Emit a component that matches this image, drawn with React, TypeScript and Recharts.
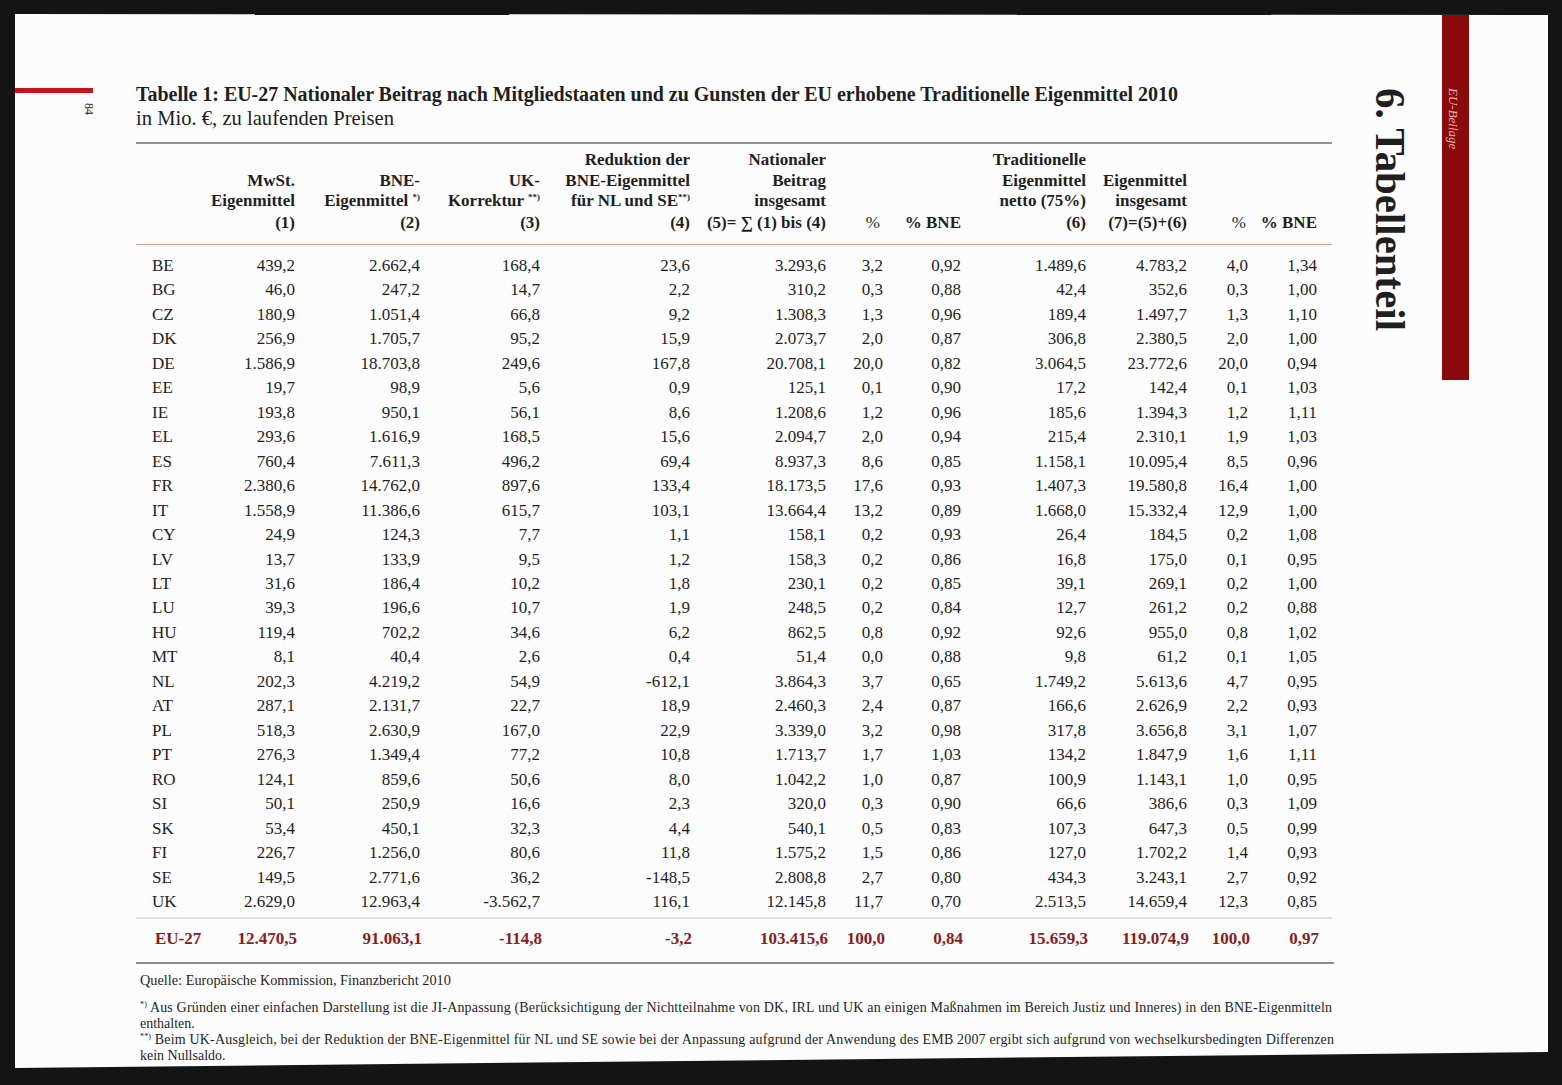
import React from 'react';
import { ScatterChart, Scatter, XAxis, YAxis, Customized } from 'recharts';

// ---------- DATA ----------
const countries = ['BE','BG','CZ','DK','DE','EE','IE','EL','ES','FR','IT','CY','LV','LT','LU','HU','MT','NL','AT','PL','PT','RO','SI','SK','FI','SE','UK'];

const mwstEigenmittel = [439.2,46.0,180.9,256.9,1586.9,19.7,193.8,293.6,760.4,2380.6,1558.9,24.9,13.7,31.6,39.3,119.4,8.1,202.3,287.1,518.3,276.3,124.1,50.1,53.4,226.7,149.5,2629.0];
const bneEigenmittel = [2662.4,247.2,1051.4,1705.7,18703.8,98.9,950.1,1616.9,7611.3,14762.0,11386.6,124.3,133.9,186.4,196.6,702.2,40.4,4219.2,2131.7,2630.9,1349.4,859.6,250.9,450.1,1256.0,2771.6,12963.4];
const ukKorrektur = [168.4,14.7,66.8,95.2,249.6,5.6,56.1,168.5,496.2,897.6,615.7,7.7,9.5,10.2,10.7,34.6,2.6,54.9,22.7,167.0,77.2,50.6,16.6,32.3,80.6,36.2,-3562.7];
const reduktionNLSE = [23.6,2.2,9.2,15.9,167.8,0.9,8.6,15.6,69.4,133.4,103.1,1.1,1.2,1.8,1.9,6.2,0.4,-612.1,18.9,22.9,10.8,8.0,2.3,4.4,11.8,-148.5,116.1];
const nationalerBeitrag = [3293.6,310.2,1308.3,2073.7,20708.1,125.1,1208.6,2094.7,8937.3,18173.5,13664.4,158.1,158.3,230.1,248.5,862.5,51.4,3864.3,2460.3,3339.0,1713.7,1042.2,320.0,540.1,1575.2,2808.8,12145.8];
const anteilBeitrag = [3.2,0.3,1.3,2.0,20.0,0.1,1.2,2.0,8.6,17.6,13.2,0.2,0.2,0.2,0.2,0.8,0.0,3.7,2.4,3.2,1.7,1.0,0.3,0.5,1.5,2.7,11.7];
const bneAnteilBeitrag = [0.92,0.88,0.96,0.87,0.82,0.90,0.96,0.94,0.85,0.93,0.89,0.93,0.86,0.85,0.84,0.92,0.88,0.65,0.87,0.98,1.03,0.87,0.90,0.83,0.86,0.80,0.70];
const traditionelleEM = [1489.6,42.4,189.4,306.8,3064.5,17.2,185.6,215.4,1158.1,1407.3,1668.0,26.4,16.8,39.1,12.7,92.6,9.8,1749.2,166.6,317.8,134.2,100.9,66.6,107.3,127.0,434.3,2513.5];
const eigenmittelGesamt = [4783.2,352.6,1497.7,2380.5,23772.6,142.4,1394.3,2310.1,10095.4,19580.8,15332.4,184.5,175.0,269.1,261.2,955.0,61.2,5613.6,2626.9,3656.8,1847.9,1143.1,386.6,647.3,1702.2,3243.1,14659.4];
const anteilGesamt = [4.0,0.3,1.3,2.0,20.0,0.1,1.2,1.9,8.5,16.4,12.9,0.2,0.1,0.2,0.2,0.8,0.1,4.7,2.2,3.1,1.6,1.0,0.3,0.5,1.4,2.7,12.3];
const bneAnteilGesamt = [1.34,1.00,1.10,1.00,0.94,1.03,1.11,1.03,0.96,1.00,1.00,1.08,0.95,1.00,0.88,1.02,1.05,0.95,0.93,1.07,1.11,0.95,1.09,0.99,0.93,0.92,0.85];

const totalLabel = 'EU-27';
const eu27Totals = [12470.5,91063.1,-114.8,-3.2,103415.6,100.0,0.84,15659.3,119074.9,100.0,0.97];

const columnValues = [mwstEigenmittel,bneEigenmittel,ukKorrektur,reduktionNLSE,nationalerBeitrag,anteilBeitrag,bneAnteilBeitrag,traditionelleEM,eigenmittelGesamt,anteilGesamt,bneAnteilGesamt];
const columnDecimals = [1,1,1,1,1,1,2,1,1,1,2];

// header texts (4 lines each, '|' separates a superscript note)
const headerTexts: (string | null)[][] = [
  [null,'MwSt.','Eigenmittel','(1)'],
  [null,'BNE-','Eigenmittel |*)','(2)'],
  [null,'UK-','Korrektur |**)','(3)'],
  ['Reduktion der','BNE-Eigenmittel','für NL und SE|**)','(4)'],
  ['Nationaler','Beitrag','insgesamt','(5)= ∑ (1) bis (4)'],
  [null,null,null,'%'],
  [null,null,null,'% BNE'],
  ['Traditionelle','Eigenmittel','netto (75%)','(6)'],
  [null,'Eigenmittel','insgesamt','(7)=(5)+(6)'],
  [null,null,null,'%'],
  [null,null,null,'% BNE'],
];
const headerBold = [true,true,true,true,true,false,true,true,true,false,true];

const titleText = 'Tabelle 1: EU-27 Nationaler Beitrag nach Mitgliedstaaten und zu Gunsten der EU erhobene Traditionelle Eigenmittel 2010';
const subtitleText = 'in Mio. €, zu laufenden Preisen';
const sourceText = 'Quelle: Europäische Kommission, Finanzbericht 2010';
const note1a = ' Aus Gründen einer einfachen Darstellung ist die JI-Anpassung (Berücksichtigung der Nichtteilnahme von DK, IRL und UK an einigen Maßnahmen im Bereich Justiz und Inneres) in den BNE-Eigenmitteln';
const note1b = 'enthalten.';
const note2a = ' Beim UK-Ausgleich, bei der Reduktion der BNE-Eigenmittel für NL und SE sowie bei der Anpassung aufgrund der Anwendung des EMB 2007 ergibt sich aufgrund von wechselkursbedingten Differenzen';
const note2b = 'kein Nullsaldo.';
const pageNumber = '84';
const sectionTitle = '6. Tabellenteil';
const sideTag = 'EU-Beilage';

// ---------- LAYOUT / STYLE ----------
const W = 1600;
const H = 1085;
const FONT = '"Liberation Serif", "Times New Roman", serif';
const INK = '#1f1f1f';
const RED = '#8e1b1b';
const COL_X = [295, 420, 540, 690, 826, 883, 961, 1086, 1187, 1248, 1317];
const HEAD_X = [295, 420, 540, 690, 826, 880, 961, 1086, 1187, 1246, 1317];
const HEAD_Y = [165, 185.5, 206, 228];
const CODE_X = 152;
const TOTAL_ROW = 27.5;

const fmt = (v: number, d: number) => {
  const neg = v < 0;
  const s = Math.abs(v).toFixed(d);
  const [i, dec] = s.split('.');
  const g = i.replace(/\B(?=(\d{3})+(?!\d))/g, '.');
  return (neg ? '-' : '') + g + (dec ? ',' + dec : '');
};

const makeShape = (anchor: 'start' | 'end', weight: string | number, fill: string) => (p: any) => (
  <text
    x={p.cx}
    y={p.cy + 6}
    textAnchor={anchor}
    fontFamily={FONT}
    fontSize={17}
    fontWeight={weight}
    fill={fill}
  >
    {p.payload.label}
  </text>
);

const valueShape = makeShape('end', 400, INK);
const codeShape = makeShape('start', 400, INK);
const totalShape = makeShape('end', 700, RED);
const totalCodeShape = makeShape('start', 700, RED);

const codeData = countries.map((c, r) => ({ x: CODE_X, y: r, label: c }));
const columnData = columnValues.map((vals, i) =>
  vals.map((v, r) => ({ x: COL_X[i], y: r, label: fmt(v, columnDecimals[i]) }))
);
const totalData = eu27Totals.map((v, i) => ({ x: COL_X[i] + 2, y: TOTAL_ROW, label: fmt(v, columnDecimals[i]) }));
const totalCodeData = [{ x: CODE_X + 3, y: TOTAL_ROW, label: totalLabel }];

const Sup = ({ t }: { t: string }) => (
  <tspan fontSize={9} dy={-6}>{t}</tspan>
);

const Decorations = () => (
  <g>
    <polygon points="15,14 1548,15 1548,1052 15,1068" fill="#fcfcfc" />
    <rect x={15} y={88} width={78} height={5} fill="#c8121c" />
    <text transform="translate(85,103) rotate(90)" fontFamily={FONT} fontSize={12} fill={INK}>{pageNumber}</text>
    <rect x={1442} y={15} width={27} height={365} fill="#8a0a0c" />
    <text transform="translate(1449,88) rotate(90)" fontFamily={FONT} fontStyle="italic" fontSize={13} fill="#f2b4b4">{sideTag}</text>
    <text transform="translate(1376,88) rotate(90)" fontFamily={FONT} fontSize={42} fontWeight={700} fill={INK} textLength={243} lengthAdjust="spacingAndGlyphs">{sectionTitle}</text>

    <text x={136} y={101} fontFamily={FONT} fontSize={20} fontWeight={700} fill={INK} textLength={1042}>{titleText}</text>
    <text x={136} y={125} fontFamily={FONT} fontSize={20.6} fill={INK}>{subtitleText}</text>

    <line x1={136} x2={1332} y1={143} y2={143} stroke="#707070" strokeWidth={1.5} />
    {headerTexts.map((lines, c) =>
      lines.map((ln, k) => {
        if (!ln) return null;
        const [main, sup] = ln.split('|');
        return (
          <text
            key={`h${c}-${k}`}
            x={HEAD_X[c]}
            y={HEAD_Y[k]}
            textAnchor="end"
            fontFamily={FONT}
            fontSize={17}
            fontWeight={headerBold[c] ? 700 : 400}
            fill={INK}
          >
            {main}
            {sup ? <Sup t={sup} /> : null}
          </text>
        );
      })
    )}
    <line x1={136} x2={1332} y1={244.5} y2={244.5} stroke="#e49a86" strokeWidth={1.2} />
    <line x1={136} x2={1332} y1={918} y2={918} stroke="#c4c4c4" strokeWidth={1} />
    <line x1={136} x2={1334} y1={963} y2={963} stroke="#6a6a6a" strokeWidth={1.5} />

    <text x={140} y={985} fontFamily={FONT} fontSize={14.3} fill={INK}>{sourceText}</text>
    <text x={140} y={1012} fontFamily={FONT} fontSize={14} fill={INK} textLength={1192}>
      <tspan fontSize={8} dy={-5}>*)</tspan><tspan dy={5}>{note1a}</tspan>
    </text>
    <text x={140} y={1028} fontFamily={FONT} fontSize={14} fill={INK}>{note1b}</text>
    <text x={140} y={1044} fontFamily={FONT} fontSize={14} fill={INK} textLength={1194}>
      <tspan fontSize={8} dy={-5}>**)</tspan><tspan dy={5}>{note2a}</tspan>
    </text>
    <text x={140} y={1060} fontFamily={FONT} fontSize={14} fill={INK}>{note2b}</text>
  </g>
);

export default function App() {
  return (
    <div style={{ position: 'absolute', left: 0, top: 0, width: 1562, height: 1085, overflow: 'hidden', background: '#141414' }}>
      <ScatterChart width={W} height={H} margin={{ top: 240.54, right: 0, bottom: 110.66, left: 0 }}>
        <XAxis type="number" dataKey="x" domain={[0, W]} allowDataOverflow hide />
        <YAxis type="number" dataKey="y" domain={[-1, 29]} allowDataOverflow reversed hide />
        <Customized component={Decorations} />
        <Scatter data={codeData} shape={codeShape} isAnimationActive={false} />
        {columnData.map((d, i) => (
          <Scatter key={i} data={d} shape={valueShape} isAnimationActive={false} />
        ))}
        <Scatter data={totalCodeData} shape={totalCodeShape} isAnimationActive={false} />
        <Scatter data={totalData} shape={totalShape} isAnimationActive={false} />
      </ScatterChart>
    </div>
  );
}
